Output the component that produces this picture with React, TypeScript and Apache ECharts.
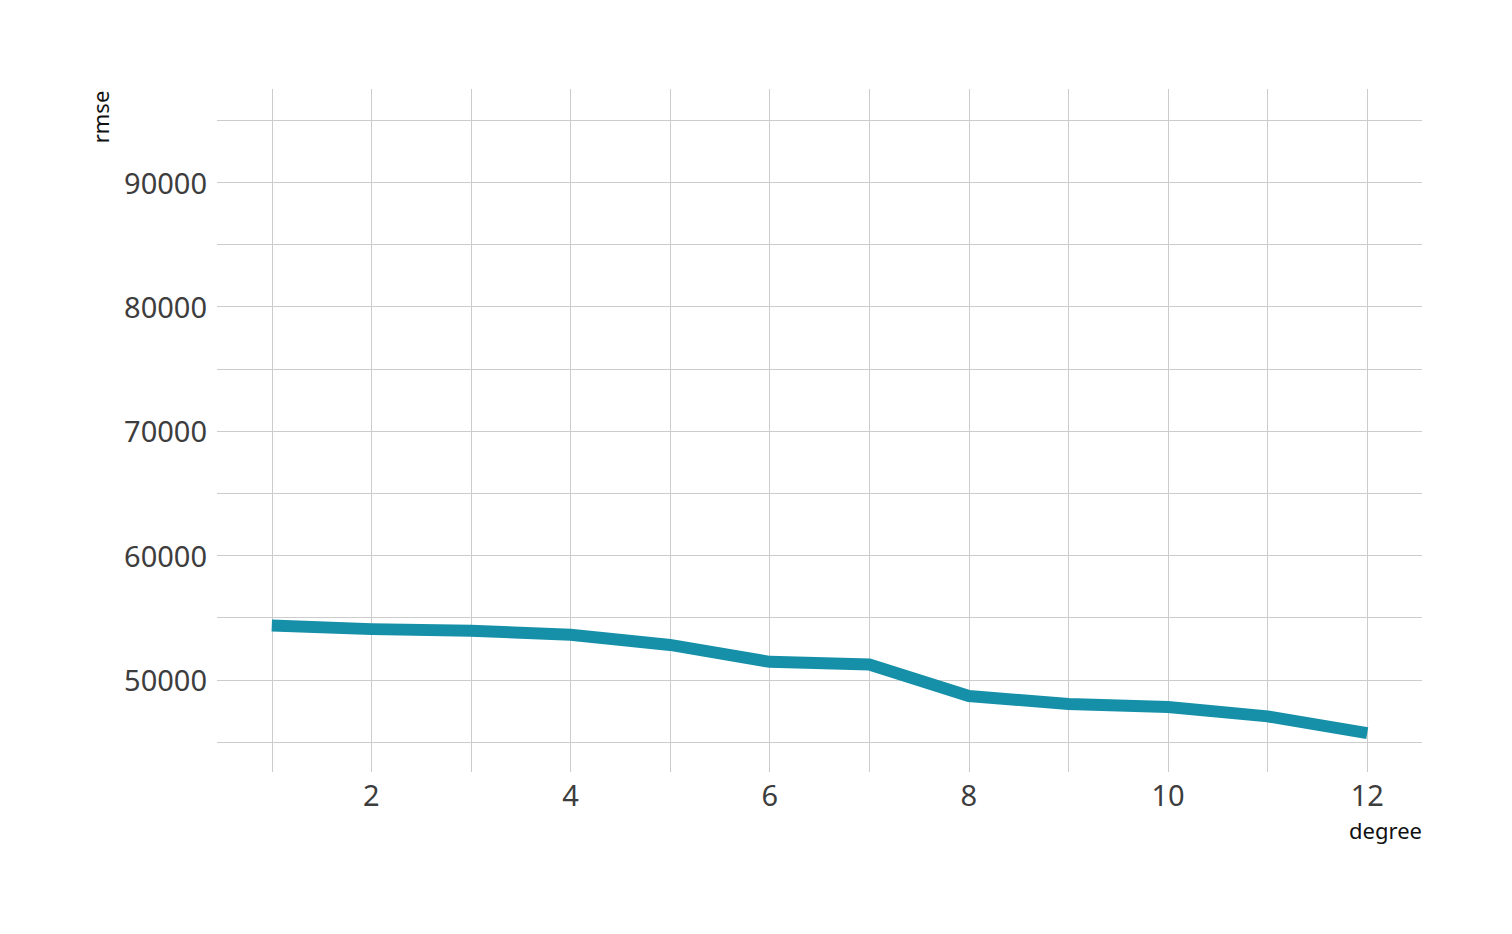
import React, { useEffect, useRef } from "react";
import * as echarts from "echarts";

const degrees = [1, 2, 3, 4, 5, 6, 7, 8, 9, 10, 11, 12];
const rmse = [54380, 54080, 53950, 53630, 52810, 51450, 51230, 48700, 48070, 47830, 47070, 45730];
const xGridValues = [1, 2, 3, 4, 5, 6, 7, 8, 9, 10, 11, 12];
const xLabelValues = [2, 4, 6, 8, 10, 12];
const yGridValues = [45000, 50000, 55000, 60000, 65000, 70000, 75000, 80000, 85000, 90000, 95000];
const yLabelValues = [50000, 60000, 70000, 80000, 90000];

export default function App() {
  const ref = useRef<HTMLDivElement>(null);
  useEffect(() => {
    if (!ref.current) return;
    const chart = echarts.init(ref.current, null, { renderer: "svg" });
    const font = "'Noto Sans', sans-serif";
    chart.setOption({
      animation: false,
      backgroundColor: "#ffffff",
      grid: { left: 217, right: 90, top: 89, bottom: 162, containLabel: false },
      xAxis: {
        type: "value",
        min: 0.45,
        max: 12.55,
        axisLine: { show: false },
        axisTick: { show: false, customValues: xGridValues },
        axisLabel: {
          customValues: xLabelValues,
          formatter: (v: number) => String(v),
          color: "#3d3d3d",
          fontSize: 29,
          fontFamily: font,
          margin: 8,
        },
        splitLine: { show: true, lineStyle: { color: "#cccccc", width: 1 } },
      },
      yAxis: {
        type: "value",
        min: 42600,
        max: 97480,
        axisLine: { show: false },
        axisTick: { show: false, customValues: yGridValues },
        axisLabel: {
          customValues: yLabelValues,
          formatter: (v: number) => String(v),
          color: "#3d3d3d",
          fontSize: 29,
          fontFamily: font,
          margin: 10,
        },
        splitLine: { show: true, lineStyle: { color: "#cccccc", width: 1 } },
      },
      graphic: [
        {
          type: "text",
          x: 100,
          y: 117,
          rotation: Math.PI / 2,
          style: {
            text: "rmse",
            fontSize: 22,
            fontFamily: font,
            fill: "#111111",
            textAlign: "center",
            textVerticalAlign: "middle",
          },
        },
        {
          type: "text",
          x: 1422,
          y: 830,
          style: {
            text: "degree",
            fontSize: 22,
            fontFamily: font,
            fill: "#111111",
            textAlign: "right",
            textVerticalAlign: "middle",
          },
        },
      ],
      series: [
        {
          type: "line",
          data: degrees.map((d, i) => [d, rmse[i]]),
          showSymbol: false,
          symbol: "none",
          lineStyle: { color: "#1590a8", width: 12, cap: "butt", join: "miter" },
        },
      ],
    });
    return () => chart.dispose();
  }, []);
  return (
    <div
      ref={ref}
      style={{ position: "fixed", left: 0, top: 0, width: 1512, height: 934 }}
    />
  );
}
